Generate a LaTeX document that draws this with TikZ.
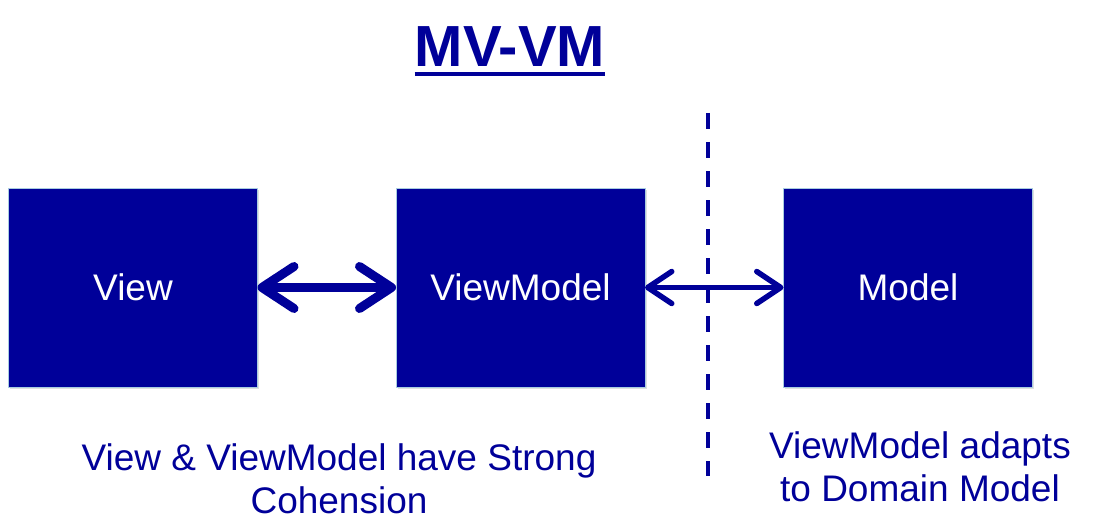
\documentclass[tikz,border=0pt]{standalone}
\usepackage{fontspec}
\setmainfont{Liberation Sans}
\usepackage{xcolor}
\usepackage{tikz}
\usetikzlibrary{arrows.meta, positioning, shadows}
\definecolor{mvblue}{HTML}{000099}
\definecolor{mvedge}{HTML}{A8CCE0}
\tikzset{
    layer/.style={
        rectangle, draw=mvedge, line width=0.8pt, fill=mvblue,
        text=white, minimum width=249pt, minimum height=199pt,
        inner sep=0pt, outer sep=0pt, font=\fontsize{37}{43}\selectfont,
        drop shadow={opacity=0.25, shadow xshift=1.5pt, shadow yshift=-2pt}
    },
    note/.style={text=mvblue, align=center, inner sep=0pt,
        font=\fontsize{37}{43}\selectfont},
    bigarrow/.style={draw=mvblue, line width=9pt,
        {Straight Barb[length=32pt, width=42pt, round]}-{Straight Barb[length=32pt, width=42pt, round]}},
    smallarrow/.style={draw=mvblue, line width=5.5pt,
        {Straight Barb[length=24pt, width=32pt, round]}-{Straight Barb[length=24pt, width=32pt, round]}},
    cut/.style={draw=mvblue, line width=4pt, dash pattern=on 16pt off 13pt}
}
\begin{document}
\begin{tikzpicture}[x=1pt, y=-1pt, node distance=138.5pt]
    \useasboundingbox (0,0) rectangle (1108,532);
    % title
    \node (title) [text=mvblue, inner sep=0pt, anchor=base,
        font=\fontsize{58}{62}\bfseries\selectfont] at (510,67) {MV-VM};
    \draw [mvblue, line width=3.5pt] ([yshift=-7pt]title.base west) -- ([yshift=-7pt]title.base east);
    % layers
    \node (view) [layer] at (133,287.5) {View};
    \node (vm) [layer, right=of view] {ViewModel};
    \node (model) [layer, right=of vm] {Model};
    % boundary
    \coordinate (cuttop) at (708,113);
    \coordinate (cutbot) at (708,476);
    \draw [cut] (cuttop) -- (cutbot);
    \draw [bigarrow] (view) -- (vm);
    \draw [smallarrow] (vm) -- (model);
    % notes
    \node (cohesion) [note, anchor=north] at (339,443) {View \& ViewModel have Strong\\Cohension};
    \node (adapt) [note, anchor=north] at (920,431) {ViewModel adapts\\to Domain Model};
\end{tikzpicture}
\end{document}
